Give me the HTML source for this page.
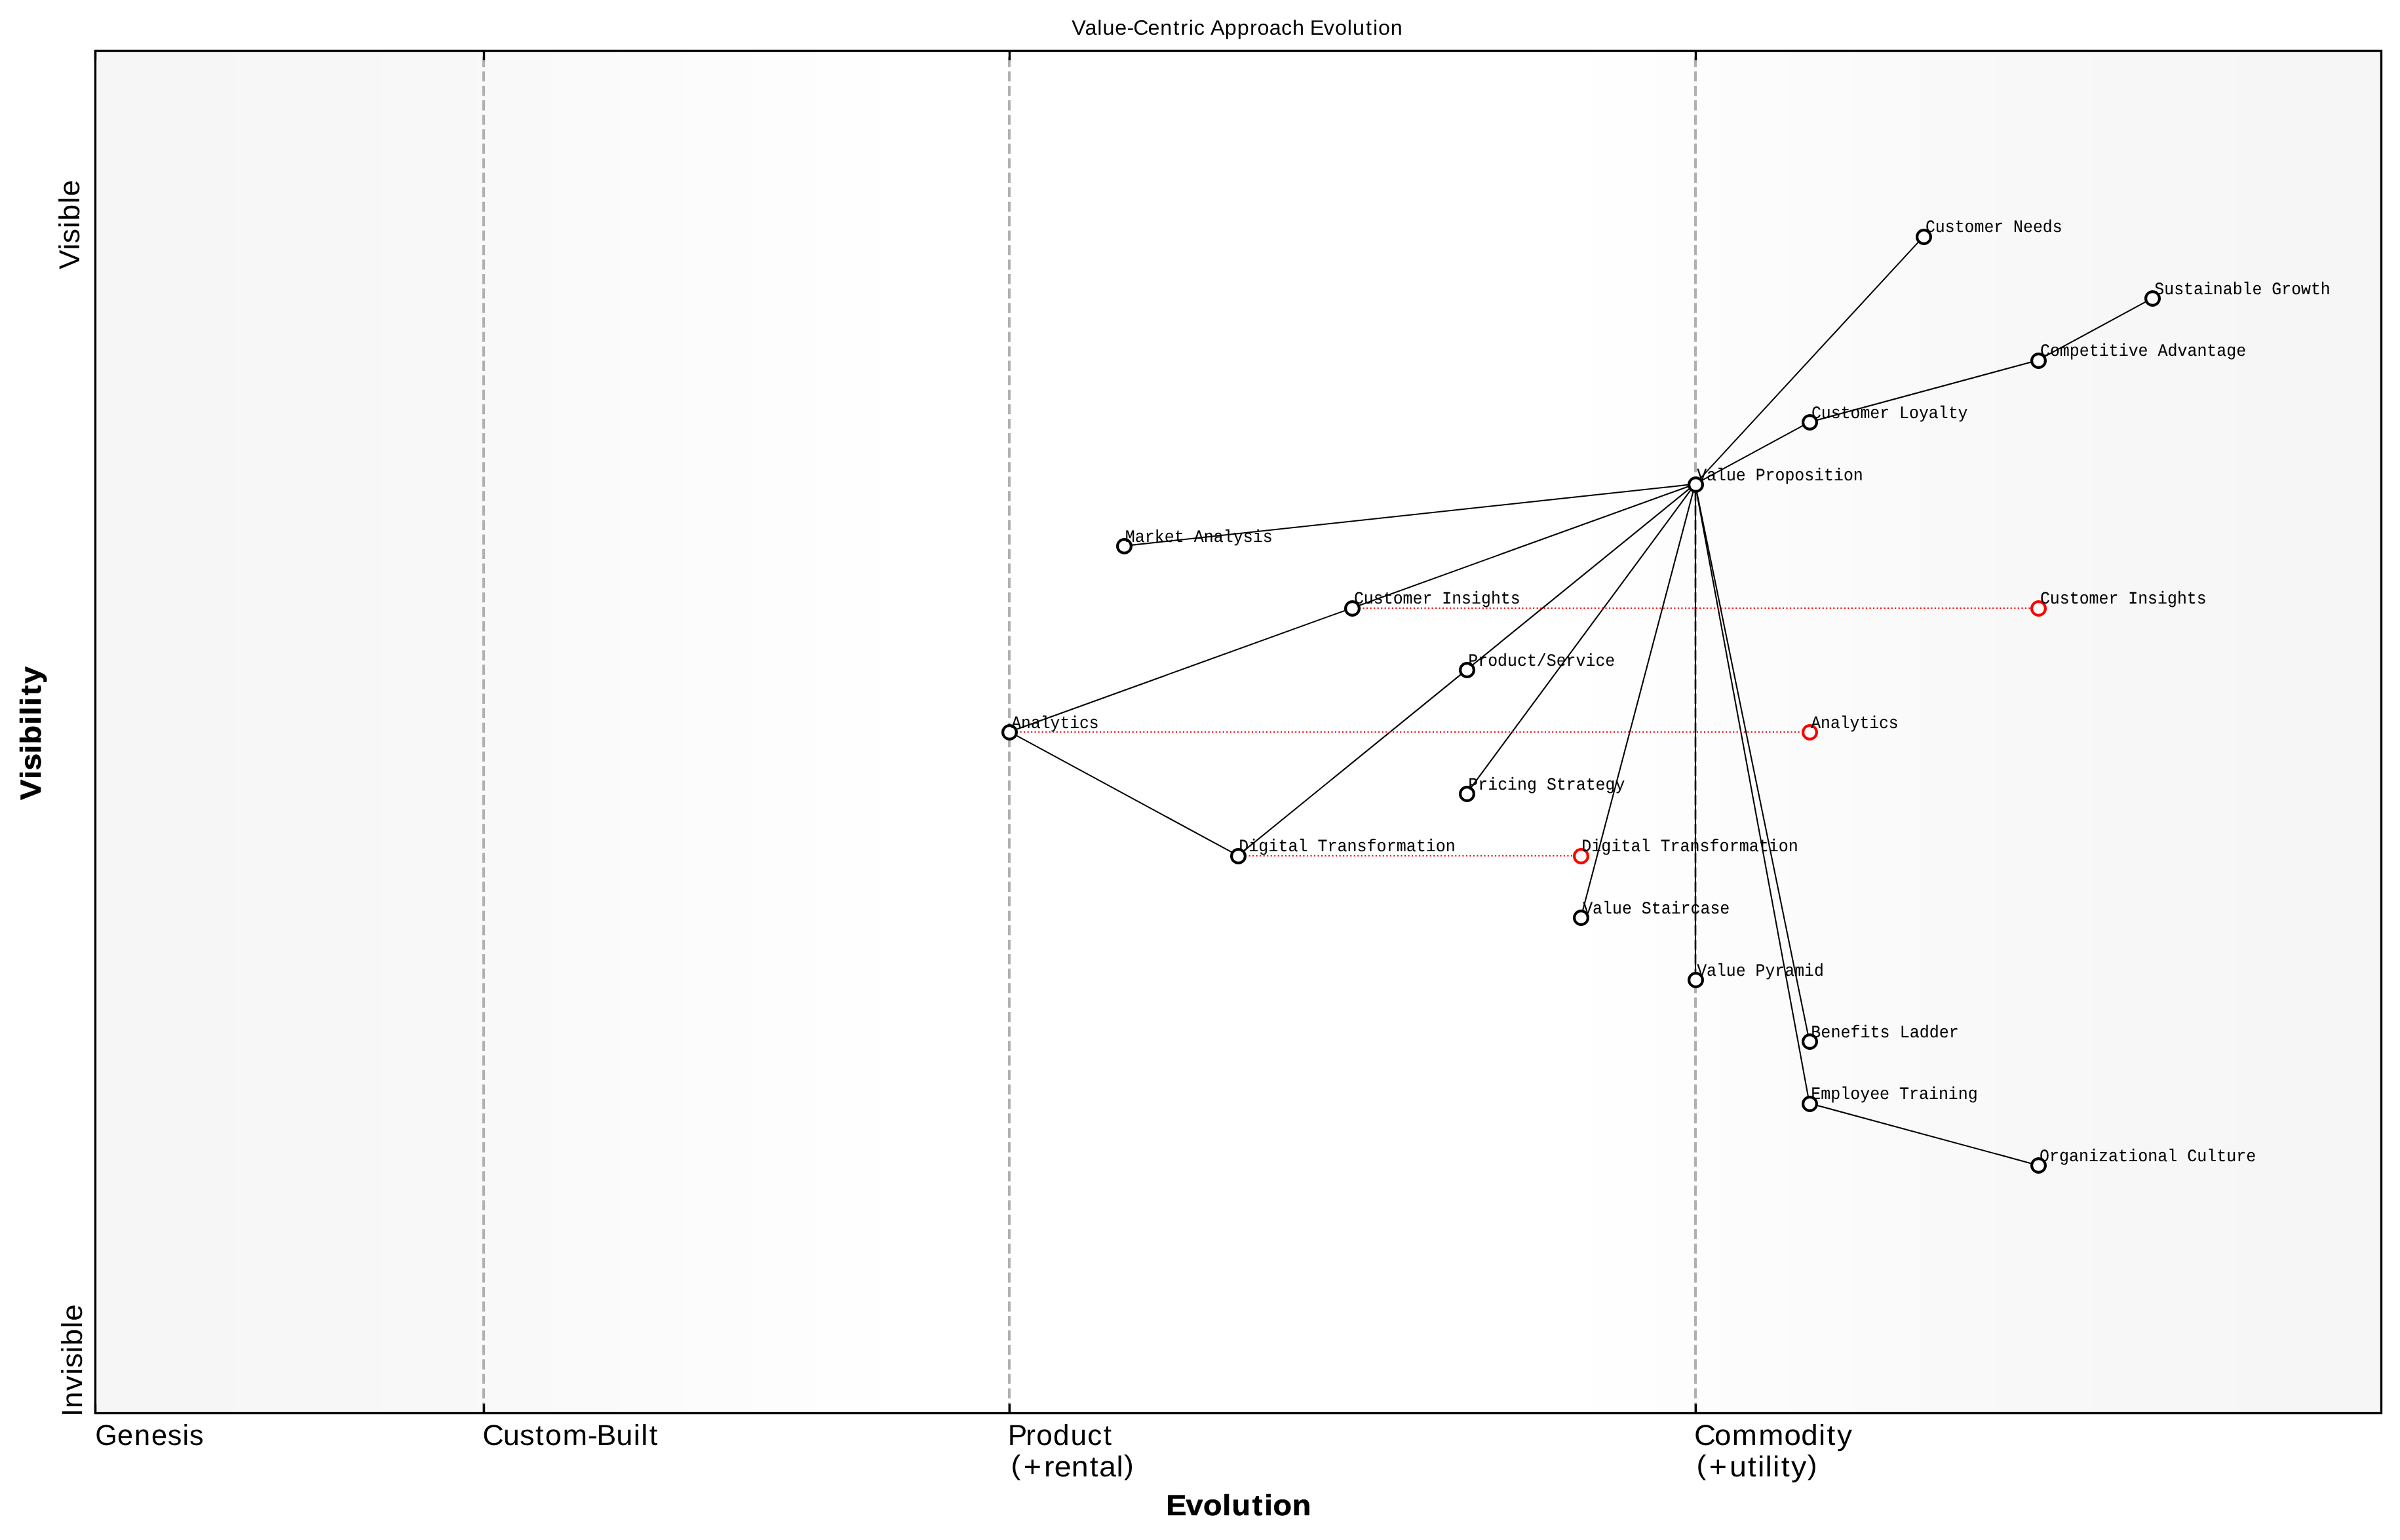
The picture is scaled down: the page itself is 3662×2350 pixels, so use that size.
<!DOCTYPE html>
<html lang="en"><head><meta charset="utf-8"><title>Value-Centric Approach Evolution</title>
<style>
html,body{margin:0;padding:0;background:#ffffff;}
body{width:3662px;height:2350px;font-family:"Liberation Sans",sans-serif;}
svg{display:block;width:3662px;height:2350px;will-change:transform;}
text{font-kerning:none;font-variant-ligatures:none;text-rendering:geometricPrecision;fill:#000000;white-space:pre;}
.s{font-family:"Liberation Sans",sans-serif;}
.b{font-family:"Liberation Sans",sans-serif;font-weight:bold;stroke:#000000;stroke-width:0.7;stroke-linejoin:round;}
.m{font-family:"Liberation Mono",monospace;stroke:#000000;stroke-width:0.09;}
.edge{stroke:#000000;stroke-width:2.0833;fill:none;stroke-linecap:butt;}
.evo{stroke:#ff0000;stroke-width:2.0833;fill:none;stroke-dasharray:2.0833 3.4375;}
.grid{stroke:#b0b0b0;stroke-width:4.1667;fill:none;stroke-dasharray:15.4167 6.6667;}
.tick{stroke:#000000;stroke-width:3.3333;fill:none;}
.node{fill:#ffffff;stroke:#000000;stroke-width:4.1667;}
.enode{fill:#ffffff;stroke:#ff0000;stroke-width:4.1667;}
</style></head>
<body>
<svg width="3662" height="2350" viewBox="0 0 3662 2350">
<rect x="0" y="0" width="3662" height="2350" fill="#ffffff"/>
<g id="background" shape-rendering="crispEdges">
<rect x="145.5" y="77.5" width="212.5" height="2079" fill="#f6f6f6"/>
<rect x="358" y="77.5" width="223" height="2079" fill="#f7f7f7"/>
<rect x="581" y="77.5" width="145" height="2079" fill="#f8f8f8"/>
<rect x="726" y="77.5" width="118" height="2079" fill="#f9f9f9"/>
<rect x="844" y="77.5" width="104" height="2079" fill="#fafafa"/>
<rect x="948" y="77.5" width="96" height="2079" fill="#fbfbfb"/>
<rect x="1044" y="77.5" width="104" height="2079" fill="#fcfcfc"/>
<rect x="1148" y="77.5" width="96" height="2079" fill="#fdfdfd"/>
<rect x="1244" y="77.5" width="100" height="2079" fill="#fefefe"/>
<rect x="1344" y="77.5" width="1085" height="2079" fill="#ffffff"/>
<rect x="2429" y="77.5" width="100" height="2079" fill="#fefefe"/>
<rect x="2529" y="77.5" width="95" height="2079" fill="#fdfdfd"/>
<rect x="2624" y="77.5" width="105" height="2079" fill="#fcfcfc"/>
<rect x="2729" y="77.5" width="95" height="2079" fill="#fbfbfb"/>
<rect x="2824" y="77.5" width="105" height="2079" fill="#fafafa"/>
<rect x="2929" y="77.5" width="118" height="2079" fill="#f9f9f9"/>
<rect x="3047" y="77.5" width="145" height="2079" fill="#f8f8f8"/>
<rect x="3192" y="77.5" width="223" height="2079" fill="#f7f7f7"/>
<rect x="3415" y="77.5" width="218.5" height="2079" fill="#f6f6f6"/>
</g>
<g id="grid">
<path class="grid" d="M738 2156 V77.5"/>
<path class="grid" d="M1540 2156 V77.5"/>
<path class="grid" d="M2587 2156 V77.5"/>
</g>
<g id="ticks">
<path class="tick" d="M145.5 77.5 v14.5833 M145.5 2156.5 v-14.5833"/>
<path class="tick" d="M738.5 77.5 v14.5833 M738.5 2156.5 v-14.5833"/>
<path class="tick" d="M1540.5 77.5 v14.5833 M1540.5 2156.5 v-14.5833"/>
<path class="tick" d="M2587.5 77.5 v14.5833 M2587.5 2156.5 v-14.5833"/>
</g>
<g id="edges">
<path class="edge" d="M2586.50 738.65 L2935.25 360.65"/>
<path class="edge" d="M2586.50 738.65 L2760.88 644.15"/>
<path class="edge" d="M2760.88 644.15 L3109.62 549.65"/>
<path class="edge" d="M3109.62 549.65 L3284.00 455.15"/>
<path class="edge" d="M2586.50 738.65 L1714.62 833.15"/>
<path class="edge" d="M2586.50 738.65 L2063.38 927.65"/>
<path class="edge" d="M2063.38 927.65 L1540.25 1116.65"/>
<path class="edge" d="M1540.25 1116.65 L1889.00 1305.65"/>
<path class="edge" d="M1889.00 1305.65 L2237.75 1022.15"/>
<path class="edge" d="M2237.75 1022.15 L2586.50 738.65"/>
<path class="edge" d="M2586.50 738.65 L2237.75 1211.15"/>
<path class="edge" d="M2586.50 738.65 L2412.12 1400.15"/>
<path class="edge" d="M2587.00 738.65 L2587.00 1494.65"/>
<path class="edge" d="M2586.50 738.65 L2760.88 1589.15"/>
<path class="edge" d="M2586.50 738.65 L2760.88 1683.65"/>
<path class="edge" d="M2760.88 1683.65 L3109.62 1778.15"/>
</g>
<g id="evolve-lines">
<path class="evo" d="M2063.00 928 H3109.62"/>
<path class="evo" d="M1540.00 1117 H2760.88"/>
<path class="evo" d="M1889.00 1306 H2412.12"/>
</g>
<g id="nodes">
<circle class="node" cx="2935.5" cy="361.5" r="10.4167"/>
<circle class="node" cx="3284.5" cy="455.5" r="10.4167"/>
<circle class="node" cx="3110.5" cy="550.5" r="10.4167"/>
<circle class="node" cx="2761.5" cy="644.5" r="10.4167"/>
<circle class="node" cx="2587.5" cy="739.5" r="10.4167"/>
<circle class="node" cx="1715.5" cy="833.5" r="10.4167"/>
<circle class="node" cx="2063.5" cy="928.5" r="10.4167"/>
<circle class="node" cx="2238.5" cy="1022.5" r="10.4167"/>
<circle class="node" cx="1540.5" cy="1117.5" r="10.4167"/>
<circle class="node" cx="2238.5" cy="1211.5" r="10.4167"/>
<circle class="node" cx="1889.5" cy="1306.5" r="10.4167"/>
<circle class="node" cx="2412.5" cy="1400.5" r="10.4167"/>
<circle class="node" cx="2587.5" cy="1495.5" r="10.4167"/>
<circle class="node" cx="2761.5" cy="1589.5" r="10.4167"/>
<circle class="node" cx="2761.5" cy="1684.5" r="10.4167"/>
<circle class="node" cx="3110.5" cy="1778.5" r="10.4167"/>
<circle class="enode" cx="3110.5" cy="928.5" r="10.4167"/>
<circle class="enode" cx="2761.5" cy="1117.5" r="10.4167"/>
<circle class="enode" cx="2412.5" cy="1306.5" r="10.4167"/>
</g>
<g id="labels">
<text class="m" font-size="26.4" transform="translate(2937.93 353.60) scale(0.9415 1)">Customer Needs</text>
<text class="m" font-size="26.4" transform="translate(3287.34 448.60) scale(0.9417 1)">Sustainable Growth</text>
<text class="m" font-size="26.4" transform="translate(3112.92 542.60) scale(0.9451 1)">Competitive Advantage</text>
<text class="m" font-size="26.4" transform="translate(2763.93 637.60) scale(0.9413 1)">Customer Loyalty</text>
<text class="m" font-size="26.4" transform="translate(2589.18 732.60) scale(0.9420 1)">Value Proposition</text>
<text class="m" font-size="26.4" transform="translate(1716.73 826.60) scale(0.9470 1)">Market Analysis</text>
<text class="m" font-size="26.4" transform="translate(2065.93 920.60) scale(0.9425 1)">Customer Insights</text>
<text class="m" font-size="26.4" transform="translate(2240.33 1015.60) scale(0.9426 1)">Product/Service</text>
<text class="m" font-size="26.4" transform="translate(1543.30 1110.60) scale(0.9359 1)">Analytics</text>
<text class="m" font-size="26.4" transform="translate(2240.33 1204.60) scale(0.9437 1)">Pricing Strategy</text>
<text class="m" font-size="26.4" transform="translate(1890.32 1298.60) scale(0.9485 1)">Digital Transformation</text>
<text class="m" font-size="26.4" transform="translate(2415.18 1393.60) scale(0.9433 1)">Value Staircase</text>
<text class="m" font-size="26.4" transform="translate(2589.18 1488.60) scale(0.9405 1)">Value Pyramid</text>
<text class="m" font-size="26.4" transform="translate(2763.32 1582.60) scale(0.9495 1)">Benefits Ladder</text>
<text class="m" font-size="26.4" transform="translate(2763.33 1676.60) scale(0.9450 1)">Employee Training</text>
<text class="m" font-size="26.4" transform="translate(3112.05 1771.60) scale(0.9477 1)">Organizational Culture</text>
<text class="m" font-size="26.4" transform="translate(3112.93 920.60) scale(0.9425 1)">Customer Insights</text>
<text class="m" font-size="26.4" transform="translate(2763.30 1110.60) scale(0.9359 1)">Analytics</text>
<text class="m" font-size="26.4" transform="translate(2413.32 1298.60) scale(0.9485 1)">Digital Transformation</text>
</g>
<rect id="frame" x="145.5" y="77.5" width="3488" height="2079" fill="none" stroke="#000000" stroke-width="3.3333"/>
<g id="axis-text">
<text class="s" font-size="31.8" transform="translate(1637.07 52.60) scale(1.0173 1)" x="-1.70 18.01 36.52 44.73 63.16 81.15 90.57 112.56 130.99 150.53 161.57 173.65 181.52 197.84 206.39 227.63 246.43 265.22 276.54 294.60 312.63 329.19 347.62 355.44 376.16 393.02 411.54 419.75 439.29 450.12 458.02 476.39">Value-Centric Approach Evolution</text>
<text class="s" font-size="44" transform="translate(145.96 2205.40) scale(0.9857 1)" x="-0.75 33.48 59.86 86.23 111.50 134.48 145.23">Genesis</text>
<text class="s" font-size="44" transform="translate(737.96 2205.40) scale(1.0245 1)" x="-1.67 29.06 53.79 77.28 91.53 117.59 154.94 168.15 197.43 223.27 234.49 246.87">Custom-Built</text>
<text class="s" font-size="44" transform="translate(1540.21 2205.40) scale(1.0055 1)" x="-2.55 25.00 40.79 66.52 92.75 118.48 142.88">Product</text>
<text class="s" font-size="44" transform="translate(1541.72 2252.60) scale(1.0600 1)" x="0.67 18.87 48.45 63.30 87.82 114.11 127.74 152.54 163.52"><tspan font-size="42.0" dy="-2.85">(</tspan><tspan dy="2.85">+rental</tspan><tspan font-size="42.0" dy="-2.85">)</tspan></text>
<text class="s" font-size="44" transform="translate(2586.96 2205.40) scale(1.0399 1)" x="-1.88 27.97 53.56 92.51 130.27 155.16 180.72 192.89 207.72">Commodity</text>
<text class="s" font-size="44" transform="translate(2587.72 2252.60) scale(1.0600 1)" x="0.67 18.87 48.32 74.61 88.98 99.83 110.68 122.60 137.05 160.34"><tspan font-size="42.0" dy="-2.85">(</tspan><tspan dy="2.85">+utility</tspan><tspan font-size="42.0" dy="-2.85">)</tspan></text>
<text class="b" font-size="44" transform="translate(1780.48 2311.80) scale(1.0600 1)" x="-1.23 27.45 52.48 79.97 93.34 122.80 140.11 152.95 180.37">Evolution</text>
<text class="s" font-size="44" transform="translate(120.50 410.03) rotate(-90) scale(1.0116 1)" x="-1.02 28.10 38.43 60.97 72.35 98.41 109.42">Visible</text>
<text class="s" font-size="44" transform="translate(124.50 2161.79) rotate(-90) scale(1.0419 1)" x="-0.17 12.30 38.01 61.46 71.30 93.37 104.20 129.73 140.20">Invisible</text>
<text class="b" font-size="44" transform="translate(61.80 1220.90) rotate(-90) scale(1.0600 1)" x="0.18 30.33 42.60 67.12 80.61 108.75 122.19 135.63 150.52 167.78">Visibility</text>
</g>
</svg>
</body></html>
